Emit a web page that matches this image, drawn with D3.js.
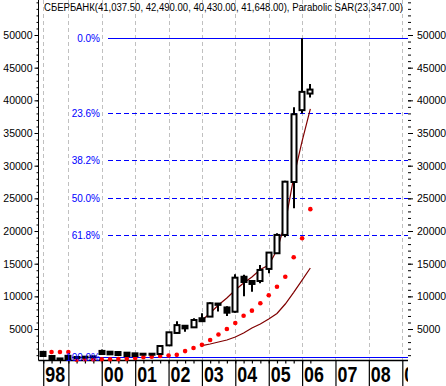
<!DOCTYPE html>
<html>
<head>
<meta charset="utf-8">
<style>
body { margin: 0; background: #fff; }
svg { display: block; font-family: "Liberation Sans", Arial, sans-serif; }
.grid line { stroke: #c0c0c0; stroke-dasharray: 4,3; }
.axis text { font-size: 10.5px; fill: #000; }
.axis line { stroke: #000; }
.fib text { font-size: 10px; fill: #0000ff; }
.years text { font-size: 21px; font-weight: bold; }
</style>
</head>
<body>
<svg width="446" height="386"></svg>
<script src="https://d3js.org/d3.v7.min.js"></script>
<script>
  // quarterly candles, Sberbank
  var quarters = ["1998-04","1998-07","1998-10","1999-01","1999-04","1999-07","1999-10",
    "2000-01","2000-04","2000-07","2000-10","2001-01","2001-04","2001-07","2001-10",
    "2002-01","2002-04","2002-07","2002-10","2003-01","2003-04","2003-07","2003-10",
    "2004-01","2004-04","2004-07","2004-10","2005-01","2005-04","2005-07","2005-10",
    "2006-01","2006-04"];
  var open  = [1500, 870, 500, 900, 700, 750, 800, 1650, 1530, 1480, 1380, 1280, 1220, 1220, 1180,
    2500, 4400, 5500, 5260, 6650, 6900, 8900, 8300, 7650, 13000, 12350, 12350, 14200, 16600,
    19400, 27500, 38500, 41037.5];
  var high  = [1550, 900, 520, 950, 750, 800, 850, 1850, 1600, 1550, 1450, 1350, 1300, 1280, 2450,
    4550, 6200, 5550, 6640, 7400, 9100, 9000, 8500, 13400, 13300, 12500, 14800, 16800, 19650,
    27700, 38940, 49500, 42490];
  var low   = [850, 350, 250, 360, 650, 700, 750, 1150, 1100, 1000, 850, 850, 1100, 1150, 1150,
    2400, 4300, 4600, 5200, 6100, 6850, 7700, 7000, 7500, 10000, 10700, 12000, 13530, 16500,
    19040, 23480, 38000, 40430];
  var close = [870, 380, 280, 400, 720, 770, 820, 1180, 1130, 1020, 870, 870, 1130, 1180, 2400,
    4500, 5600, 5100, 6380, 6200, 8950, 8700, 7500, 12860, 12200, 11900, 14040, 16700, 19400,
    27550, 37870, 41300, 41648];

  // Parabolic SAR
  var sar = [null, 1480, 1480, 1480, 300, 370, 370, 370, 380, 400, 460, 570, 670, 770, 870,
    950, 1050, 1620, 2100, 2580, 3330, 4170, 5000, 5920, 7040, 7810, 8940, 10160, 11480,
    13010, 15980, 18890, 23347];

  // two dark red averages, starting 2003 Q1
  var lineStart = 19;
  var avgFast = [6310, 7450, 8680, 9750, 10970, 12050, 12960, 14110, 14800, 17100, 21240, 28200, 33770, 38690];
  var avgSlow = [2450, 2710, 3020, 3320, 3780, 4390, 5160, 5770, 6540, 7380, 8830, 10610, 12480, 14340];

  // Fibonacci retracement
  var fibHigh = 49500, fibLow = 720;
  var fibLevels = [0, 23.6, 38.2, 50, 61.8, 100];
  var fibLabels = ["0.0%", "23.6%", "38.2%", "50.0%", "61.8%", "100.0%"];

  // x axis
  var yearTicks = ["1998-04","1999-01","2000-01","2001-01","2002-01","2003-01","2004-01",
    "2005-01","2006-01","2007-01","2008-01","2009-01"];
  var yearLabels = ["98", "", "00", "01", "02", "03", "04", "05", "06", "07", "08", "09"];

  var title = "СБЕРБАНК(41,037.50, 42,490.00, 40,430.00, 41,648.00), Parabolic SAR(23,347.00)";

  var svg = d3.select("svg");
  var parse = d3.timeParse("%Y-%m");
  var left = 38.5, right = 408, bottom = 360.5;

  var x = d3.scaleTime()
    .domain([new Date(1998, 0, 1), new Date(2009, 0, 1)])
    .range([35, 402.3]);
  var y = d3.scaleLinear().domain([0, 50000]).range([361.7, 35]);

  var data = quarters.map(function(q, i) {
    return {date: parse(q), o: open[i], h: high[i], l: low[i], c: close[i], sar: sar[i]};
  });

  // vertical grid
  svg.append("g").attr("class", "grid")
    .selectAll("line").data(yearTicks).enter().append("line")
    .attr("x1", function(d) { return Math.round(x(parse(d))) + 0.5; })
    .attr("x2", function(d) { return Math.round(x(parse(d))) + 0.5; })
    .attr("y1", 0).attr("y2", bottom);

  // left axis
  var minorTicks = d3.range(1000, 56000, 1000);
  var majorTicks = d3.range(5000, 55000, 5000);
  var yl = svg.append("g").attr("class", "axis").attr("transform", "translate(" + left + ",0)");
  yl.call(d3.axisLeft(y).tickValues(minorTicks).tickSize(2).tickFormat(""));
  yl.append("g").call(d3.axisLeft(y).tickValues(majorTicks).tickSize(4).tickPadding(2).tickFormat(d3.format("d")));
  yl.selectAll(".domain").remove();
  yl.append("line").attr("x1", 0).attr("x2", 0).attr("y1", 0).attr("y2", bottom);

  // right axis
  var yr = svg.append("g").attr("class", "axis").attr("transform", "translate(" + right + ",0)");
  yr.call(d3.axisRight(y).tickValues(minorTicks).tickSize(3).tickFormat(""));
  yr.append("g").call(d3.axisRight(y).tickValues(majorTicks).tickSize(5).tickPadding(4).tickFormat(d3.format("d")));
  yr.selectAll(".domain").remove();

  // bottom axis
  svg.append("clipPath").attr("id", "clipx")
    .append("rect").attr("x", 0).attr("y", bottom).attr("width", right).attr("height", 30);
  var xb = svg.append("g").attr("class", "axis").attr("transform", "translate(0," + bottom + ")");
  xb.call(d3.axisBottom(x).tickValues(data.map(function(d) { return d.date; })).tickSize(3).tickFormat(""));
  xb.append("g").call(d3.axisBottom(x).tickValues(yearTicks.map(parse)).tickSize(26).tickFormat(""));
  xb.selectAll(".domain").remove();
  xb.selectAll(".tick line").attr("stroke-width", 1.2);
  svg.append("line").attr("x1", left).attr("x2", right).attr("y1", bottom).attr("y2", bottom)
    .attr("stroke", "#000").attr("stroke-width", 1.5);
  svg.append("g").attr("class", "years").attr("clip-path", "url(#clipx)")
    .selectAll("text").data(yearTicks).enter().append("text")
    .attr("transform", function(d) { return "translate(" + (x(parse(d)) + 2) + ",381.5) scale(0.85,1.05)"; })
    .text(function(d, i) { return yearLabels[i]; });

  // fib lines
  var fibY = function(p) { return Math.round(y(fibHigh - p / 100 * (fibHigh - fibLow))) + 0.5; };
  svg.append("g").selectAll("line").data(fibLevels).enter().append("line")
    .attr("x1", function(p) { return p === 100 ? 72 : 108; }).attr("x2", right)
    .attr("y1", fibY).attr("y2", fibY)
    .attr("stroke", "#0000ff").attr("stroke-width", 1.2)
    .attr("stroke-dasharray", function(p) { return (p === 0 || p === 100) ? null : "5,3"; });

  // averages
  var avgLine = d3.line()
    .x(function(d, i) { return x(data[lineStart + i].date); })
    .y(function(d) { return y(d); });
  svg.append("path").datum(avgSlow).attr("d", avgLine)
    .attr("fill", "none").attr("stroke", "#800000").attr("stroke-width", 1.2);
  svg.append("path").datum(avgFast).attr("d", avgLine)
    .attr("fill", "none").attr("stroke", "#800000").attr("stroke-width", 1.2);

  // SAR dots
  svg.append("g").selectAll("circle").data(data.filter(function(d) { return d.sar != null; }))
    .enter().append("circle")
    .attr("cx", function(d) { return x(d.date); })
    .attr("cy", function(d) { return y(d.sar); })
    .attr("r", 2.3)
    .attr("fill", "#ff0000");

  // candles
  var candle = svg.append("g").selectAll("g").data(data).enter().append("g")
    .attr("transform", function(d) { return "translate(" + Math.round(x(d.date)) + ",0)"; });
  candle.append("line")
    .attr("x1", 0).attr("x2", 0)
    .attr("y1", function(d) { return y(d.h); })
    .attr("y2", function(d) { return y(d.l); })
    .attr("stroke", "#000").attr("stroke-width", 2);
  candle.append("rect")
    .attr("x", -2.5).attr("width", 5)
    .attr("y", function(d) { return y(Math.max(d.o, d.c)); })
    .attr("height", function(d) { return Math.max(1, Math.abs(y(d.o) - y(d.c))); })
    .attr("fill", function(d) { return d.c >= d.o ? "#fff" : "#000"; })
    .attr("stroke", "#000").attr("stroke-width", 2);

  // fib labels on top
  svg.append("g").attr("class", "fib").selectAll("text").data(fibLevels).enter().append("text")
    .attr("x", 100).attr("y", fibY).attr("dy", "0.35em")
    .attr("text-anchor", "end").text(function(p, i) { return fibLabels[i]; });

  // title
  svg.append("text").attr("x", 44).attr("y", 11)
    .attr("font-size", "10px")
    .attr("textLength", 359).attr("lengthAdjust", "spacingAndGlyphs")
    .text(title);
</script>
</body>
</html>
